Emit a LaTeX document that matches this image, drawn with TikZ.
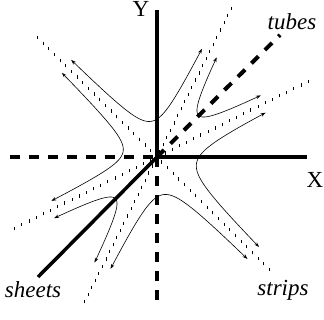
\documentclass[tikz,border=0pt]{standalone}
\usepackage{fontspec}
\setmainfont{Liberation Serif}
\usetikzlibrary{arrows.meta,decorations.markings}
% U V D KU KV Tneg Tpos
\newcommand\flowbranch[7]{%
  \draw[flow, domain=-#6:#7, samples=60, smooth, variable=\t]
    plot ({(#3+#4*exp(\t))*cos(#1)+(#3+#5*exp(-\t))*cos(#2)},
          {(#3+#4*exp(\t))*sin(#1)+(#3+#5*exp(-\t))*sin(#2)});}
\begin{document}
\begin{tikzpicture}[x=1pt,y=1pt,
  axis/.style={line width=4pt},
  dashedaxis/.style={line width=4pt, dash pattern=on 10pt off 9pt},
  tickline/.style={decoration={markings,
     mark=between positions 0 and 1 step 8pt with
       {\pgftransformresetnontranslations\draw[line width=0.9pt] (0,-1.6pt)--(0,1.6pt);}},
     decorate},
  flow/.style={line width=0.6pt, {Stealth[length=5pt,width=3.5pt]}-{Stealth[length=5pt,width=3.5pt]}},
  lbl/.style={font=\fontsize{23}{27}\selectfont, inner sep=0pt},
]
\useasboundingbox (-157,-163) rectangle (167,157);
\coordinate (O) at (0,0);
% asymptote (dotted) lines
\coordinate (L1a) at (135:169);  \coordinate (L1b) at (-45:166);
\coordinate (L2a) at (63.43:166); \coordinate (L2b) at (243.43:165);
\coordinate (L3a) at (26.57:169); \coordinate (L3b) at (206.57:165);
\path[tickline] (L1a) -- (L1b);
\path[tickline] (L2a) -- (L2b);
\path[tickline] (L3a) -- (L3b);
% axes
\coordinate (Ytop) at (0,147);
\coordinate (Xend) at (150,0);
\coordinate (Xneg) at (-147,0);
\coordinate (Yneg) at (0,-151);
\coordinate (Tend) at (123,122);
\coordinate (Send) at (-119,-120);
\draw[axis] (O) -- (Ytop);
\draw[axis] (O) -- (Xend);
\draw[dashedaxis] (Xneg) -- (O);
\draw[dashedaxis] (O) -- (Yneg);
\draw[dashedaxis] (O) -- (Tend);
\draw[line width=3.5pt] (O) -- (Send);
% flow branches
\flowbranch{135}{63.43}{6.3}{11.6}{22}{1.59}{2.34}
\flowbranch{135}{206.57}{6.3}{10.7}{20.6}{1.63}{2.40}
\flowbranch{206.57}{243.43}{10}{21}{21}{1.57}{1.54}
\flowbranch{243.43}{315}{6.3}{23.5}{12.6}{2.31}{1.56}
\flowbranch{315}{386.57}{6.3}{13.5}{25}{1.46}{2.24}
\flowbranch{26.57}{63.43}{10}{21}{21}{1.50}{1.55}
% labels
\node[lbl] (ylab) at (-16,148) {Y};
\node[lbl] (xlab) at (158,-23) {X};
\node[lbl] (tubes) at (135,135) {\itshape tubes};
\node[lbl] (sheets) at (-124,-133) {\itshape sheets};
\node[lbl] (strips) at (126,-133) {\itshape strips};
\end{tikzpicture}
\end{document}
